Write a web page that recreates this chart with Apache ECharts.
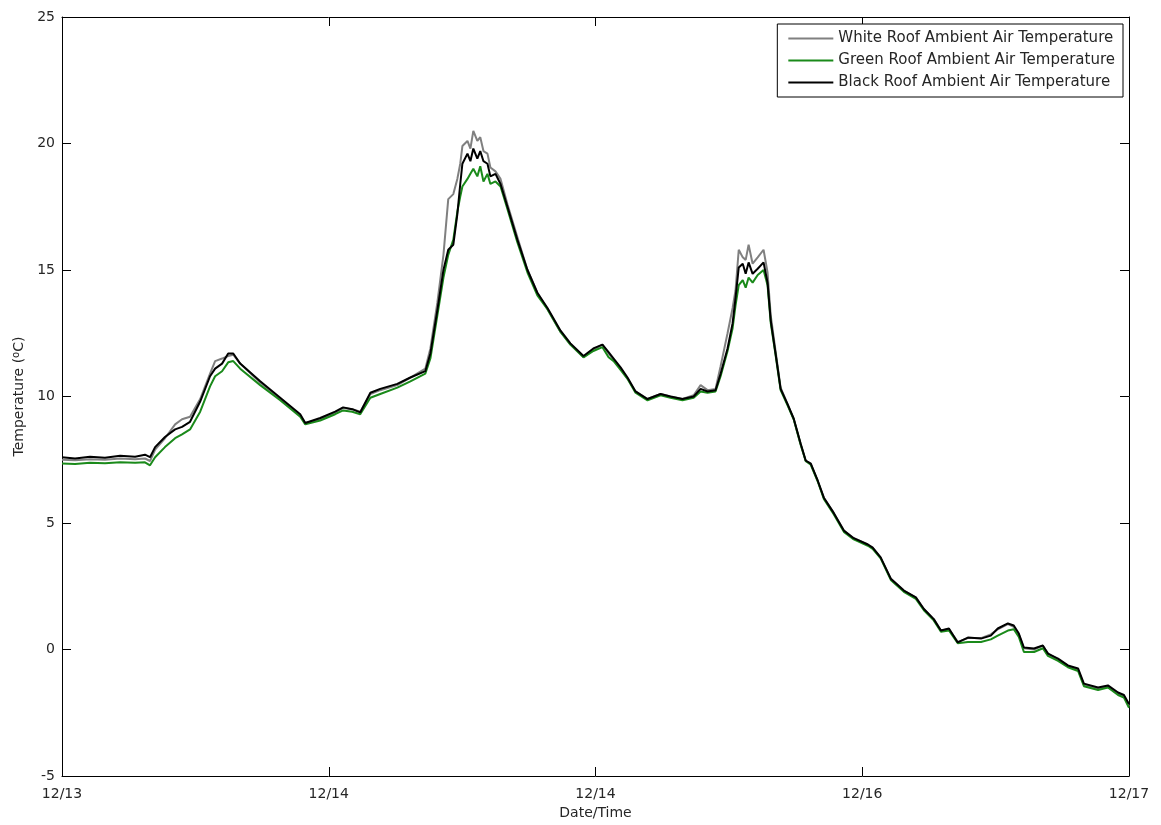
<!DOCTYPE html>
<html>
<head>
<meta charset="utf-8">
<script src="https://cdn.jsdelivr.net/npm/echarts@6/dist/echarts.min.js"></script>
<style>
html,body{margin:0;padding:0;background:#fff;}
#chart{width:1161px;height:825px;}
</style>
</head>
<body>
<div id="chart"></div>
<script>
// Time in days since 12/13 00:00
const days = [
  0.000,0.049,0.105,0.161,0.218,0.274,0.311,0.330,0.349,0.386,0.424,0.450,0.480,0.518,0.555,0.574,0.600,0.623,0.642,0.668,
  0.743,0.818,0.893,0.912,0.968,1.024,1.054,1.088,1.118,1.156,1.193,1.257,1.306,1.362,1.381,1.407,1.430,1.448,1.467,1.482,
  1.493,1.501,1.520,1.531,1.542,1.557,1.568,1.580,1.595,1.606,1.625,1.644,1.670,1.707,1.745,1.782,1.820,1.869,1.906,1.955,
  1.992,2.026,2.049,2.068,2.094,2.120,2.150,2.195,2.244,2.281,2.326,2.368,2.394,2.420,2.450,2.469,2.495,2.514,2.525,2.537,
  2.552,2.563,2.574,2.589,2.608,2.630,2.645,2.657,2.675,2.694,2.720,2.743,2.769,2.788,2.807,2.833,2.856,2.893,2.931,2.968,
  3.021,3.039,3.069,3.107,3.156,3.201,3.231,3.268,3.295,3.325,3.358,3.396,3.445,3.482,3.508,3.546,3.568,3.587,3.606,3.644,
  3.677,3.696,3.734,3.771,3.809,3.831,3.884,3.921,3.959,3.981,4.000
];
const whiteRoof = [
  7.50,7.48,7.52,7.50,7.55,7.52,7.55,7.45,7.90,8.35,8.90,9.10,9.20,9.90,10.90,11.40,11.50,11.60,11.65,11.30,
  10.55,9.90,9.25,8.95,9.10,9.35,9.55,9.50,9.40,10.10,10.25,10.45,10.75,11.10,11.90,13.70,15.60,17.80,18.00,18.60,
  19.20,19.90,20.10,19.80,20.50,20.10,20.25,19.70,19.60,19.05,18.90,18.60,17.60,16.30,15.00,14.10,13.45,12.55,12.05,11.55,
  11.85,12.05,11.70,11.45,11.10,10.70,10.20,9.90,10.10,10.00,9.90,10.05,10.45,10.25,10.30,11.20,12.50,13.50,14.20,15.80,
  15.50,15.40,16.00,15.25,15.50,15.80,14.90,13.20,11.80,10.35,9.70,9.10,8.10,7.45,7.35,6.65,6.00,5.40,4.70,4.40,
  4.15,4.03,3.62,2.80,2.33,2.05,1.60,1.20,0.75,0.80,0.30,0.45,0.45,0.60,0.80,1.00,0.90,0.60,0.05,0.00,
  0.15,-0.15,-0.40,-0.65,-0.80,-1.40,-1.55,-1.45,-1.75,-1.85,-2.25
];
const greenRoof = [
  7.35,7.33,7.38,7.36,7.40,7.38,7.40,7.28,7.60,8.00,8.35,8.50,8.70,9.40,10.40,10.80,11.00,11.35,11.40,11.10,
  10.45,9.85,9.20,8.90,9.05,9.30,9.45,9.40,9.30,9.95,10.10,10.35,10.60,10.90,11.50,13.20,14.70,15.60,16.20,17.30,
  17.90,18.30,18.60,18.80,19.00,18.70,19.10,18.50,18.80,18.40,18.50,18.30,17.40,16.10,14.90,14.00,13.45,12.55,12.05,11.55,
  11.80,11.95,11.55,11.40,11.05,10.70,10.15,9.85,10.05,9.95,9.85,9.95,10.20,10.15,10.20,10.80,11.80,12.70,13.60,14.40,
  14.60,14.30,14.70,14.50,14.80,15.00,14.40,12.90,11.65,10.25,9.65,9.10,8.10,7.45,7.30,6.65,5.95,5.35,4.65,4.35,
  4.10,3.98,3.60,2.75,2.28,2.00,1.55,1.15,0.70,0.75,0.25,0.30,0.30,0.40,0.55,0.75,0.80,0.50,-0.10,-0.10,
  0.05,-0.25,-0.45,-0.70,-0.85,-1.45,-1.60,-1.50,-1.80,-1.90,-2.30
];
const blackRoof = [
  7.60,7.55,7.62,7.58,7.66,7.62,7.70,7.60,8.00,8.40,8.70,8.80,9.00,9.80,10.80,11.10,11.30,11.70,11.70,11.30,
  10.60,9.95,9.30,8.95,9.15,9.40,9.57,9.50,9.37,10.15,10.30,10.50,10.75,11.00,11.70,13.40,15.00,15.80,16.00,17.20,
  18.40,19.20,19.60,19.30,19.80,19.40,19.70,19.30,19.20,18.70,18.80,18.40,17.50,16.20,15.00,14.10,13.50,12.60,12.10,11.60,
  11.90,12.05,11.75,11.50,11.15,10.75,10.20,9.90,10.10,10.00,9.90,10.00,10.30,10.20,10.25,10.90,11.90,12.90,13.90,15.10,
  15.25,14.85,15.30,14.85,15.05,15.30,14.50,13.00,11.70,10.30,9.70,9.13,8.14,7.47,7.35,6.68,6.00,5.40,4.70,4.40,
  4.15,4.03,3.64,2.80,2.33,2.06,1.60,1.20,0.75,0.83,0.28,0.47,0.43,0.55,0.83,1.03,0.95,0.63,0.08,0.04,
  0.16,-0.16,-0.36,-0.63,-0.75,-1.35,-1.50,-1.42,-1.70,-1.80,-2.15
];
const xTickLabels = ['12/13','12/14','12/14','12/16','12/17'];
const seriesNames = [
  'White Roof Ambient Air Temperature',
  'Green Roof Ambient Air Temperature',
  'Black Roof Ambient Air Temperature'
];

function pairs(vals){ return days.map((d,i)=>[d, vals[i]]); }

const FONT = 'DejaVu Sans, Verdana, sans-serif';
const TXT = '#262626';

const chart = echarts.init(document.getElementById('chart'), null, {renderer:'canvas'});
const axisCommon = {
  axisLine:{show:true, onZero:false, lineStyle:{color:'#000', width:1}},
  axisTick:{show:true, inside:true, length:9, lineStyle:{color:'#000'}},
  splitLine:{show:false}
};
chart.setOption({
  animation:false,
  backgroundColor:'#fff',
  grid:{left:62, right:32, top:17, bottom:49, containLabel:false},
  legend:{
    orient:'vertical', right:38, top:24,
    data:seriesNames,
    backgroundColor:'#fff', borderColor:'#000', borderWidth:1,
    padding:[7,8,7,10], itemGap:7, itemWidth:45, itemHeight:14,
    itemStyle:{opacity:0},
    textStyle:{fontFamily:FONT, fontSize:15, color:TXT}
  },
  xAxis:[
    Object.assign({type:'value', min:0, max:4, interval:1, position:'bottom',
      name:'Date/Time', nameLocation:'middle', nameGap:30,
      nameTextStyle:{fontFamily:FONT, fontSize:14, color:TXT},
      axisLabel:{margin:11, fontFamily:FONT, fontSize:14, color:TXT,
        formatter:(v)=>xTickLabels[Math.round(v)]}}, axisCommon),
    Object.assign({type:'value', min:0, max:4, interval:1, position:'top',
      axisLabel:{show:false}}, axisCommon)
  ],
  yAxis:[
    Object.assign({type:'value', min:-5, max:25, interval:5, position:'left',
      name:'Temperature ({sup|o}C)', nameLocation:'middle', nameGap:35,
      nameTextStyle:{fontFamily:FONT, fontSize:14, color:TXT,
        rich:{sup:{fontFamily:FONT, fontSize:10, color:TXT, verticalAlign:'top', padding:[0,0,6,0]}}},
      axisLabel:{margin:7, fontFamily:FONT, fontSize:14, color:TXT}}, axisCommon),
    Object.assign({type:'value', min:-5, max:25, interval:5, position:'right',
      axisLabel:{show:false}}, axisCommon)
  ],
  series:[
    {name:seriesNames[0], type:'line', data:pairs(whiteRoof), showSymbol:false, symbol:'none',
      lineStyle:{color:'#808080', width:2}, itemStyle:{color:'#808080'}, z:2},
    {name:seriesNames[1], type:'line', data:pairs(greenRoof), showSymbol:false, symbol:'none',
      lineStyle:{color:'#1a8a1a', width:2}, itemStyle:{color:'#1a8a1a'}, z:3},
    {name:seriesNames[2], type:'line', data:pairs(blackRoof), showSymbol:false, symbol:'none',
      lineStyle:{color:'#000000', width:2}, itemStyle:{color:'#000000'}, z:4}
  ]
});
</script>
</body>
</html>
